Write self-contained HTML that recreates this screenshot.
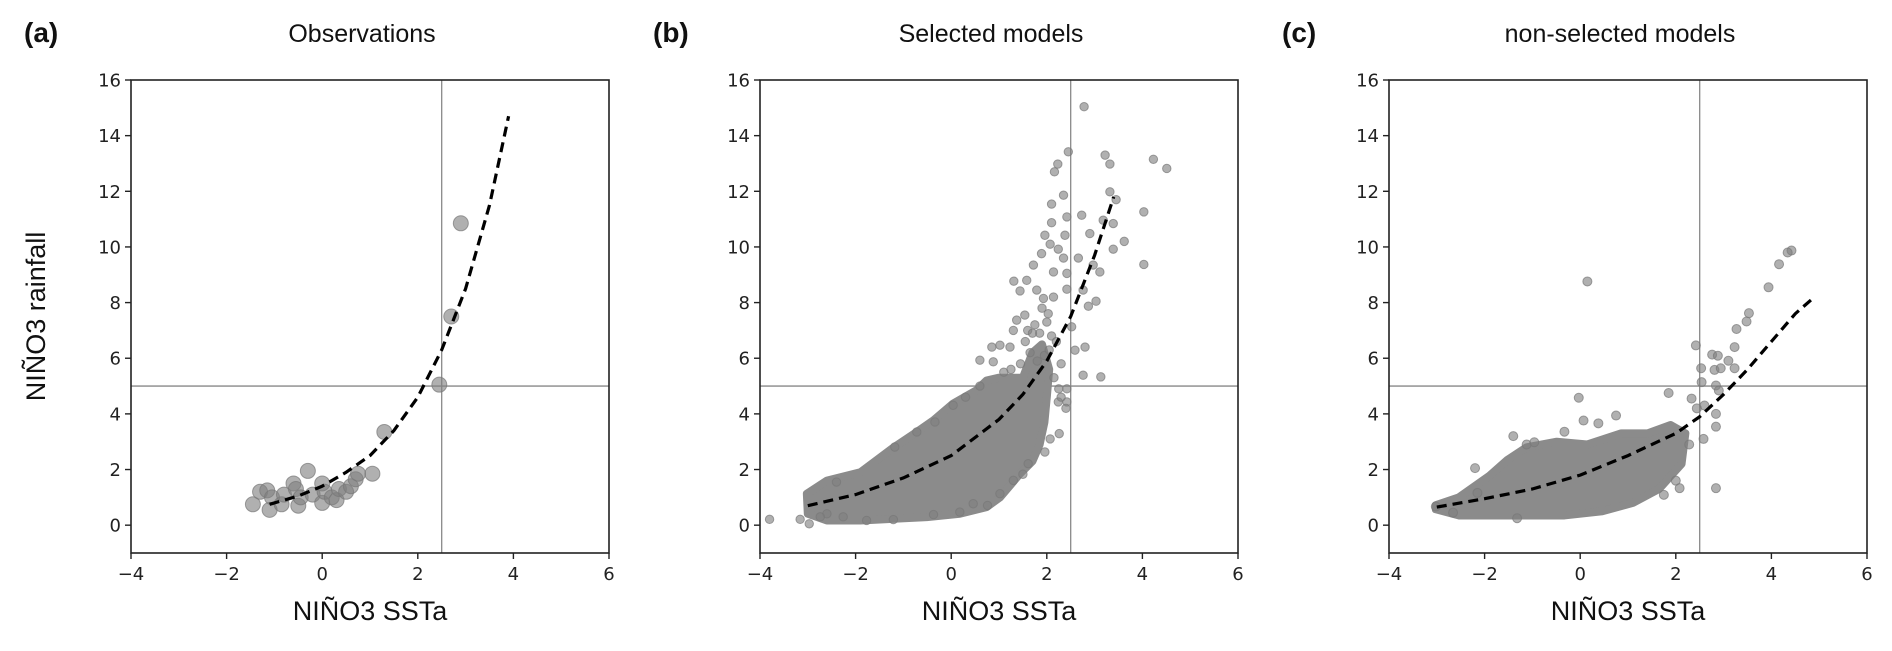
<!DOCTYPE html>
<html><head><meta charset="utf-8"><style>
body{margin:0;background:#fff;}
svg{display:block;}
text{font-family:"DejaVu Sans","Liberation Sans",sans-serif;fill:#222;}
.lab{font-family:"Liberation Sans",sans-serif;fill:#111;}
</style></head><body>
<svg id="fig" width="1892" height="651" viewBox="0 0 1892 651"></svg>
<script>
const xTicks=[-4,-2,0,2,4,6];
const yTicks=[0,2,4,6,8,10,12,14,16];
const xTickLabels=["−4","−2","0","2","4","6"];
const yTickLabels=["0","2","4","6","8","10","12","14","16"];
const refX=2.5, refY=5;
// Panel (a) observations
const obsX=[-1.45,-1.3,-1.15,-1.1,-1.05,-0.85,-0.8,-0.6,-0.55,-0.5,-0.45,-0.3,-0.2,0,0,0.05,0.2,0.3,0.35,0.5,0.6,0.7,0.75,1.05,1.3,2.45,2.7,2.9];
const obsY=[0.75,1.2,1.25,0.55,1.0,0.75,1.1,1.5,1.3,0.7,1.0,1.95,1.1,1.5,0.8,1.2,1.0,0.9,1.3,1.2,1.4,1.65,1.85,1.85,3.35,5.05,7.5,10.85];
const fitAX=[-1.1,-0.5,0,0.5,1,1.5,2,2.5,3,3.5,3.9];
const fitAY=[0.75,1.05,1.4,1.9,2.5,3.4,4.6,6.3,8.5,11.5,14.7];
// Panel (b) selected models: dense cloud envelope + individual points
const cloudBX=[-3.02,-2.6,-1.9,-1.2,-0.72,-0.37,0.04,0.53,0.74,1.0,1.5,1.7,1.9,2.05,2.0,1.95,1.85,1.7,1.44,1.02,0.74,0.18,-0.51,-1.9,-2.6,-3.0];
const cloudBY=[1.13,1.6,1.9,2.8,3.35,3.77,4.37,4.85,5.2,5.3,5.3,6.2,6.5,5.6,4.6,3.7,2.9,2.3,1.85,1.0,0.65,0.41,0.29,0.17,0.17,0.41];
const selX=[-3.8,-3.16,-2.97,2.78,2.45,2.23,2.16,3.22,3.32,4.23,4.51,3.32,3.45,4.03,2.35,2.1,2.42,2.73,2.1,3.18,3.39,2.9,1.96,2.38,3.62,2.07,2.24,3.39,2.35,2.66,4.03,1.89,1.72,2.14,2.42,2.97,3.11,1.31,1.58,1.79,1.44,1.93,2.42,2.76,3.03,2.87,2.14,2.03,1.54,1.37,1.3,2.52,0.85,1.02,1.23,2.8,2.59,0.6,0.88,2.76,3.13,2.42,2.24,2.42,2.07,2.26,1.96,1.61,1.5,1.3,1.02,0.76,-2.26,-1.77,-1.21,-0.37,0.18,0.46,-2.6,-2.74,-2.4,-1.18,-0.72,-0.34,0.04,1.6,1.75,1.85,2.0,2.1,2.2,1.9,1.65,1.45,1.25,1.1,2.15,2.3,2.25,1.8,1.55,1.7,1.95,2.05,2.3,2.4,0.3,0.6];
const selY=[0.21,0.21,0.05,15.04,13.42,12.98,12.7,13.3,12.98,13.15,12.82,11.98,11.7,11.26,11.86,11.54,11.08,11.14,10.87,10.96,10.84,10.48,10.42,10.42,10.2,10.1,9.92,9.92,9.6,9.6,9.37,9.76,9.35,9.1,9.05,9.35,9.1,8.77,8.8,8.45,8.42,8.15,8.48,8.45,8.05,7.87,8.2,7.6,7.55,7.37,7.0,7.13,6.4,6.47,6.4,6.4,6.29,5.93,5.87,5.39,5.33,4.9,4.43,4.43,3.1,3.29,2.63,2.21,1.83,1.61,1.13,0.71,0.3,0.17,0.2,0.38,0.47,0.77,0.41,0.3,1.55,2.81,3.35,3.71,4.31,7.0,7.2,6.9,7.3,6.8,6.6,7.8,6.2,5.8,5.6,5.5,5.3,5.8,4.9,5.9,6.6,6.9,6.1,6.3,4.6,4.2,4.6,5.0];
const fitBX=[-3,-2,-1,0,1,1.5,2,2.5,3,3.4];
const fitBY=[0.7,1.1,1.7,2.5,3.8,4.7,5.9,7.5,9.7,11.8];
// Panel (c) non-selected models
const cloudCX=[-3.02,-2.54,-1.91,-1.52,-1.12,-0.49,0.15,0.86,1.41,1.89,2.2,2.12,1.65,1.1,0.46,-0.33,-1.12,-1.91,-2.54,-3.02];
const cloudCY=[0.72,1.0,1.76,2.35,2.8,3.0,2.9,3.3,3.3,3.6,3.3,2.2,1.3,0.8,0.5,0.35,0.35,0.35,0.35,0.57];
const nonX=[0.15,4.42,4.34,4.16,3.94,3.53,3.48,3.27,3.23,2.42,2.76,2.88,2.53,2.81,2.94,3.1,3.23,2.54,2.84,2.9,1.85,2.33,2.44,2.6,2.84,2.84,2.58,2.28,2.84,-0.03,0.07,0.38,0.75,-1.4,-2.2,-1.12,-0.96,-0.33,2.0,2.08,1.75,-1.32,-2.66,-3.02,-2.15];
const nonY=[8.76,9.87,9.8,9.38,8.55,7.62,7.32,7.05,6.4,6.46,6.13,6.09,5.64,5.58,5.64,5.91,5.64,5.14,5.02,4.84,4.75,4.55,4.2,4.3,4.0,3.54,3.1,2.9,1.33,4.58,3.76,3.66,3.94,3.2,2.05,2.9,2.98,3.36,1.6,1.33,1.09,0.25,0.45,0.67,1.16];
const fitCX=[-3,-2,-1,0,1,2,2.5,3,3.5,4,4.5,4.9];
const fitCY=[0.65,0.95,1.3,1.8,2.5,3.3,3.9,4.7,5.6,6.6,7.6,8.2];

const NS="http://www.w3.org/2000/svg";
const svg=document.getElementById('fig');
function mk(tag,attrs,parent){const e=document.createElementNS(NS,tag);for(const k in attrs)e.setAttribute(k,attrs[k]);(parent||svg).appendChild(e);return e;}
const TOP=80,BOT=553,W=478;
const X0=-4,X1=6,Y0=-1,Y1=16;
function panel(key,left,letter,title,ylabel,cloudX,cloudY,ptsX,ptsY,r,fx,fy){
  const g=mk('g',{});
  
  
  const sx=v=>left+(v-X0)/(X1-X0)*W;
  const sy=v=>BOT-(v-Y0)/(Y1-Y0)*(BOT-TOP);
  const vl=mk('line',{x1:sx(refX),x2:sx(refX),y1:TOP,y2:BOT,stroke:'#888','stroke-width':1.3},g);
  
  
  const hl=mk('line',{x1:left,x2:left+W,y1:sy(refY),y2:sy(refY),stroke:'#888','stroke-width':1.3},g);
  
  
  if(cloudX){
    const pts=cloudX.map((v,i)=>sx(v)+','+sy(cloudY[i])).join(' ');
    const c=mk('polygon',{points:pts,fill:'#8b8b8b',stroke:'#8b8b8b','stroke-width':8,'stroke-linejoin':'round'},g);
    
    
  }
  ptsX.forEach((v,i)=>{
    const p=mk('circle',{cx:sx(v),cy:sy(ptsY[i]),r:r,fill:'rgba(128,128,128,0.62)',stroke:'rgba(120,120,120,0.7)','stroke-width':1},g);
    
    
  });
  const d=fx.map((v,i)=>(i?'L':'M')+sx(v).toFixed(1)+' '+sy(fy[i]).toFixed(1)).join(' ');
  const f=mk('path',{d:d,fill:'none',stroke:'#000','stroke-width':3.2,'stroke-dasharray':'10,6'},g);
  
  
  const fr=mk('rect',{x:left,y:TOP,width:W,height:BOT-TOP,fill:'none',stroke:'#222','stroke-width':1.6},g);
  
  
  xTicks.forEach((v,i)=>{
    mk('line',{x1:sx(v),x2:sx(v),y1:BOT,y2:BOT+6,stroke:'#222','stroke-width':1.4},g);
    const t=mk('text',{x:sx(v),y:BOT+27,'text-anchor':'middle','font-size':18},g);
    t.textContent=xTickLabels[i];
    
    
  });
  yTicks.forEach((v,i)=>{
    mk('line',{x1:left-6,x2:left,y1:sy(v),y2:sy(v),stroke:'#222','stroke-width':1.4},g);
    const t=mk('text',{x:left-10,y:sy(v)+6.5,'text-anchor':'end','font-size':18},g);
    t.textContent=yTickLabels[i];
    
    
  });
  const xl=mk('text',{x:left+W/2,y:620,'text-anchor':'middle','font-size':27,class:'lab'},g);
  xl.textContent='NIÑO3 SSTa';
  
  
  const tt=mk('text',{x:left+W/2-8,y:42,'text-anchor':'middle','font-size':25,class:'lab'},g);
  tt.textContent=title;
  
  
  const lt=mk('text',{x:left-107,y:42,'font-size':28,'font-weight':'bold',class:'lab'},g);
  lt.textContent=letter;
  
  
  if(ylabel){
    const yl=mk('text',{x:0,y:0,'text-anchor':'middle','font-size':27,class:'lab',transform:'translate(45,'+((TOP+BOT)/2)+') rotate(-90)'},g);
    yl.textContent=ylabel;
    
    
  }
}
panel('a',131,'(a)','Observations','NIÑO3 rainfall',null,null,obsX,obsY,7.5,fitAX,fitAY);
panel('b',760,'(b)','Selected models',null,cloudBX,cloudBY,selX,selY,4.2,fitBX,fitBY);
panel('c',1389,'(c)','non-selected models',null,cloudCX,cloudCY,nonX,nonY,4.5,fitCX,fitCY);
</script>
</body></html>
